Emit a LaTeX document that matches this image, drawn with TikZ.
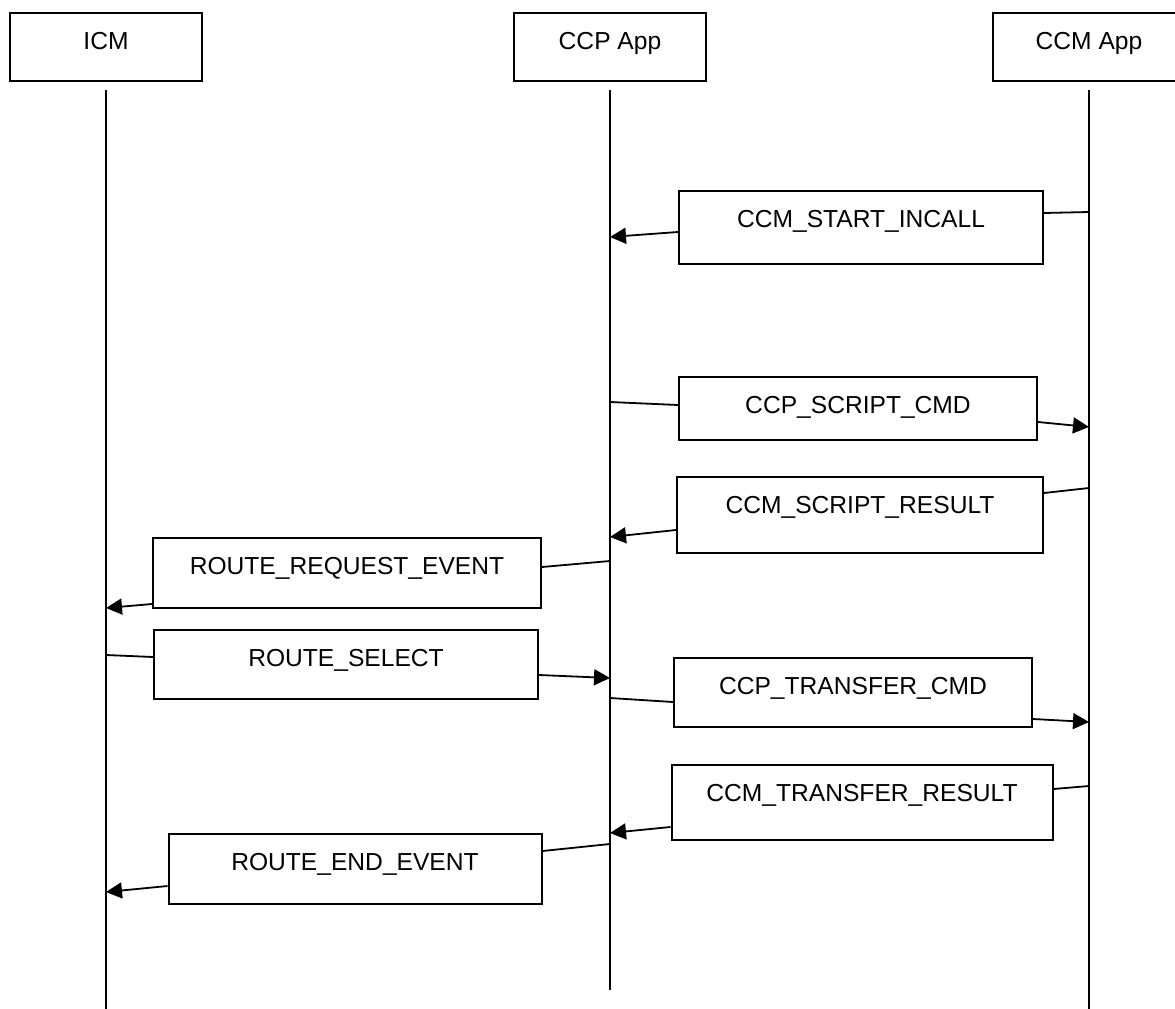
\documentclass[tikz,border=0pt]{standalone}
\usepackage{fontspec}
\setmainfont{Liberation Sans}
\usepackage{tikz}
\usetikzlibrary{arrows.meta}

\begin{document}
\begin{tikzpicture}[
    x=1pt, y=-1pt,
    font=\fontsize{24.6pt}{29pt}\selectfont,
    actor/.style={draw, rectangle, line width=2pt, inner sep=0pt, minimum width=192pt, text height=36pt, text depth=32pt, anchor=north},
    msgbox/.style={draw, rectangle, line width=2pt, inner sep=0pt, text height=36pt, anchor=north},
    life/.style={line width=2pt},
    link/.style={line width=1.8pt},
    msg/.style={-{Triangle[length=16pt,width=16pt]}, line width=1.8pt}
]
\useasboundingbox (0,0) rectangle (1175,1009);
\clip (0,0) rectangle (1175,1009);

% Nodes
\node[actor] (icm) at (106,12) {ICM};
\node[actor] (ccpapp) at (610,12) {CCP App};
\node[actor] (ccmapp) at (1089,12) {CCM App};

\node[msgbox, minimum width=364pt, text depth=37pt] (startincall) at (861,190) {CCM\_START\_INCALL};
\node[msgbox, minimum width=358pt, text depth=27pt] (scriptcmd) at (858,376) {CCP\_SCRIPT\_CMD};
\node[msgbox, minimum width=366pt, text depth=40pt] (scriptresult) at (860,476) {CCM\_SCRIPT\_RESULT};
\node[msgbox, minimum width=388pt, text depth=34pt] (routereq) at (347,537) {ROUTE\_REQUEST\_EVENT};
\node[msgbox, minimum width=384pt, text depth=33pt] (routesel) at (346,629) {ROUTE\_SELECT};
\node[msgbox, minimum width=358pt, text depth=33pt] (transfercmd) at (853,657) {CCP\_TRANSFER\_CMD};
\node[msgbox, minimum width=381pt, text depth=39pt] (transferresult) at (862,764) {CCM\_TRANSFER\_RESULT};
\node[msgbox, minimum width=373pt, text depth=34pt] (routeend) at (355,833) {ROUTE\_END\_EVENT};

% Lifelines
\draw[life] (icm |- 0,90) -- (icm |- 0,1009);
\draw[life] (ccpapp |- 0,90) -- (ccpapp |- 0,990);
\draw[life] (ccmapp |- 0,90) -- (ccmapp |- 0,1009);

% Edges
\draw[link] (ccmapp |- 0,212) -- (startincall.east |- 0,213);
\draw[msg] (startincall.west |- 0,232) -- (ccpapp |- 0,237);

\draw[link] (ccpapp |- 0,402) -- (scriptcmd.west |- 0,405);
\draw[msg] (scriptcmd.east |- 0,422) -- (ccmapp |- 0,427);

\draw[link] (ccmapp |- 0,488) -- (scriptresult.east |- 0,493);
\draw[msg] (scriptresult.west |- 0,530) -- (ccpapp |- 0,537);

\draw[link] (ccpapp |- 0,561) -- (routereq.east |- 0,567);
\draw[msg] (routereq.west |- 0,604) -- (icm |- 0,608);

\draw[link] (icm |- 0,655) -- (routesel.west |- 0,657);
\draw[msg] (routesel.east |- 0,675) -- (ccpapp |- 0,678);

\draw[link] (ccpapp |- 0,698) -- (transfercmd.west |- 0,702);
\draw[msg] (transfercmd.east |- 0,719) -- (ccmapp |- 0,722);

\draw[link] (ccmapp |- 0,786) -- (transferresult.east |- 0,789);
\draw[msg] (transferresult.west |- 0,827) -- (ccpapp |- 0,833);

\draw[link] (ccpapp |- 0,844) -- (routeend.east |- 0,851);
\draw[msg] (routeend.west |- 0,886) -- (icm |- 0,892);
\end{tikzpicture}
\end{document}
